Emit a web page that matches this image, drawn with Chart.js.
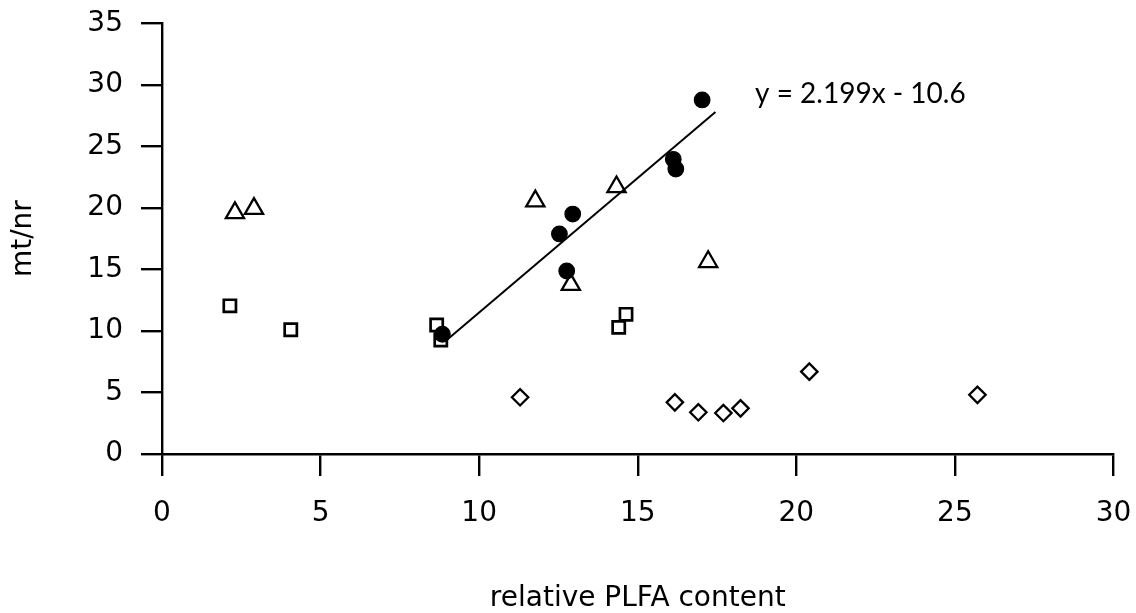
<!DOCTYPE html>
<html>
<head>
<meta charset="utf-8">
<title>mt/nr vs relative PLFA content</title>
<script src="https://cdn.jsdelivr.net/npm/chart.js@4.4.0/dist/chart.umd.min.js"></script>
<style>
  html, body { margin: 0; padding: 0; background: #fff; }
  canvas { display: block; }
</style>
</head>
<body>
<canvas id="plfa-chart" width="1136" height="613"></canvas>
<script>
// values
const circlesX = [8.84, 12.53, 12.76, 12.95, 16.12, 16.20, 17.03];
const circlesY = [9.73, 17.88, 14.87, 19.50, 23.95, 23.16, 28.77];

const trianglesX = [2.30, 2.90, 11.77, 12.89, 14.33, 17.22];
const trianglesY = [19.60, 19.94, 20.55, 13.76, 21.70, 15.62];

const squaresX = [2.14, 4.06, 8.66, 8.79, 14.40, 14.63];
const squaresY = [12.04, 10.10, 10.48, 9.26, 10.29, 11.35];

const diamondsX = [11.29, 16.17, 16.91, 17.70, 18.24, 20.41, 25.71];
const diamondsY = [4.61, 4.20, 3.39, 3.33, 3.71, 6.69, 4.81];

// trend line end points (filled circles)
const trendX = [8.95, 17.45];
const trendY = [9.2, 27.8];
const equationText = 'y = 2.199x - 10.6';

const xTicks = [0, 5, 10, 15, 20, 25, 30];
const yTicks = [0, 5, 10, 15, 20, 25, 30, 35];

function toPoints(xs, ys) {
    return xs.map(function(x, i) { return { x: x, y: ys[i] }; });
}

Chart.defaults.font.family = "'DejaVu Sans', Arial, sans-serif";
Chart.defaults.color = '#000';

// equation label next to the trend line
const equationLabel = {
    id: 'equationLabel',
    afterDatasetsDraw(chart) {
        const ctx = chart.ctx;
        const xs = chart.scales.x;
        const ys = chart.scales.y;
        ctx.save();
        ctx.font = "28px Lato, 'Open Sans', sans-serif";
        ctx.fillStyle = '#000';
        ctx.textAlign = 'left';
        ctx.textBaseline = 'alphabetic';
        ctx.fillText(equationText, xs.getPixelForValue(18.7), ys.getPixelForValue(28.5));
        ctx.restore();
    }
};

const markerBase = {
    type: 'scatter',
    borderColor: '#000',
    backgroundColor: '#fff',
    borderWidth: 2.3
};

const ctx = document.getElementById('plfa-chart').getContext('2d');
const plfaChart = new Chart(ctx, {
    type: 'scatter',
    data: {
        datasets: [
            Object.assign({}, markerBase, {
                label: 'circles',
                data: toPoints(circlesX, circlesY),
                pointStyle: 'circle',
                pointRadius: 7.8,
                backgroundColor: '#000',
                borderWidth: 1.2
            }),
            {
                type: 'line',
                label: 'trend',
                data: toPoints(trendX, trendY),
                borderColor: '#000',
                borderWidth: 2,
                pointRadius: 0,
                fill: false
            },
            Object.assign({}, markerBase, {
                label: 'triangles',
                data: toPoints(trianglesX, trianglesY),
                pointStyle: 'triangle',
                pointRadius: 10.5
            }),
            Object.assign({}, markerBase, {
                label: 'squares',
                data: toPoints(squaresX, squaresY),
                pointStyle: 'rect',
                pointRadius: 8.6,
                borderWidth: 2.7
            }),
            Object.assign({}, markerBase, {
                label: 'diamonds',
                data: toPoints(diamondsX, diamondsY),
                pointStyle: 'rectRot',
                pointRadius: 8.2
            })
        ]
    },
    options: {
        responsive: false,
        animation: false,
        layout: {
            padding: { left: 0, top: 23.3, right: 22.5, bottom: 0 }
        },
        plugins: {
            legend: { display: false },
            tooltip: { enabled: false }
        },
        scales: {
            x: {
                type: 'linear',
                min: 0,
                max: 30,
                afterFit: function(scale) {
                    scale.height = 159;
                    scale.paddingLeft = 0;
                    scale.paddingRight = 0;
                },
                afterBuildTicks: function(scale) {
                    scale.ticks = xTicks.map(function(v) { return { value: v }; });
                },
                border: { display: true, color: '#000', width: 2.4 },
                grid: { drawOnChartArea: false, drawTicks: true, tickLength: 22, color: '#000', lineWidth: 2.4 },
                ticks: { font: { size: 28 }, padding: 20.5, color: '#000', maxRotation: 0 },
                title: {
                    display: true,
                    text: 'relative PLFA content',
                    font: { size: 28, lineHeight: 1 },
                    padding: { top: 0, bottom: 0.7 },
                    color: '#000'
                }
            },
            y: {
                type: 'linear',
                min: 0,
                max: 35,
                afterFit: function(scale) {
                    scale.width = 162;
                    scale.paddingTop = 0;
                    scale.paddingBottom = 0;
                },
                afterBuildTicks: function(scale) {
                    scale.ticks = yTicks.map(function(v) { return { value: v }; });
                },
                border: { display: true, color: '#000', width: 2.4 },
                grid: { drawOnChartArea: false, drawTicks: true, tickLength: 21, color: '#000', lineWidth: 2.4 },
                ticks: { font: { size: 28 }, padding: 18, color: '#000' },
                title: {
                    display: true,
                    text: 'mt/nr',
                    font: { size: 28, lineHeight: 1 },
                    padding: { top: 9.3, bottom: 0 },
                    color: '#000'
                }
            }
        }
    },
    plugins: [equationLabel]
});
</script>
</body>
</html>
